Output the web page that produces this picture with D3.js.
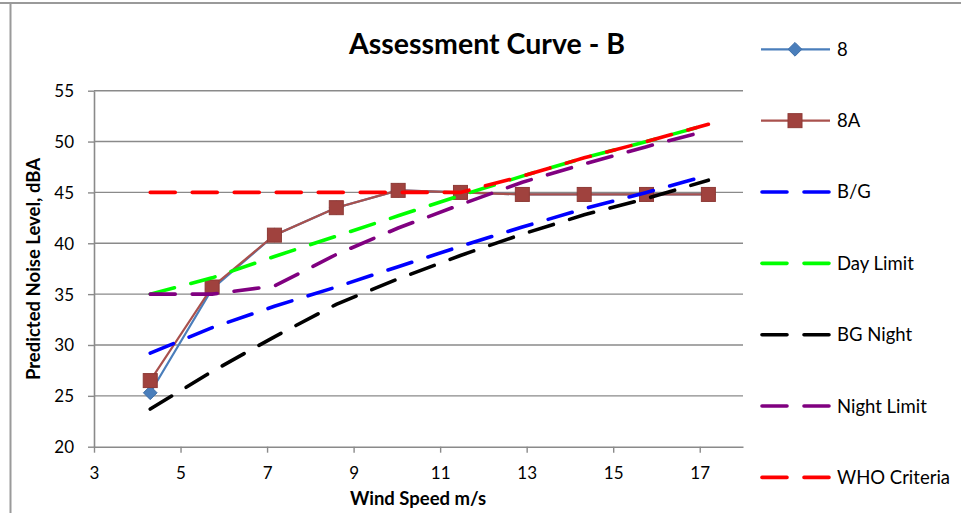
<!DOCTYPE html>
<html>
<head>
<meta charset="utf-8">
<script src="https://cdn.jsdelivr.net/npm/d3@7"></script>
<style>
  html, body { margin: 0; padding: 0; background: #fff; }
  svg { display: block; font-family: Lato, "Open Sans", sans-serif; }
</style>
</head>
<body>
<svg id="chart" width="961" height="513"></svg>
<script>
// Wind speed at which each prediction is made (m/s)
const windSpeed = [4.3, 5.73, 7.17, 8.6, 10.03, 11.47, 12.9, 14.33, 15.77, 17.2];

// Predicted turbine noise levels (dBA)
const s8  = [25.3, 35.5, 40.8, 43.5, 45.2, 45.0, 44.8, 44.8, 44.8, 44.8];
const s8A = [26.5, 35.7, 40.8, 43.5, 45.2, 45.0, 44.8, 44.8, 44.8, 44.8];

// Background levels and limits (dBA)
const bgDay      = [29.2, 31.7, 33.8, 35.7, 37.7, 39.7, 41.6, 43.4, 45.0, 46.7];
const dayLimit   = [35.0, 36.6, 38.7, 40.7, 42.7, 44.7, 46.6, 48.4, 50.0, 51.7];
const bgNight    = [23.7, 27.4, 30.8, 34.0, 36.5, 38.8, 40.9, 42.8, 44.4, 46.2];
const nightLimit = [35.0, 35.0, 35.8, 38.9, 41.5, 43.8, 46.0, 47.8, 49.5, 51.1];
const whoCriteria= [45.0, 45.0, 45.0, 45.0, 45.0, 45.0, 46.6, 48.4, 50.0, 51.7];

const xTicks = [3, 5, 7, 9, 11, 13, 15, 17];
const yTicks = [20, 25, 30, 35, 40, 45, 50, 55];

const seriesNames = ["8", "8A", "B/G", "Day Limit", "BG Night", "Night Limit", "WHO Criteria"];

const svg = d3.select("#chart");

// outer frame edges
svg.append("line").attr("x1", 0).attr("x2", 961).attr("y1", 3).attr("y2", 3)
  .attr("stroke", "#9a9a9a").attr("stroke-width", 2);
svg.append("line").attr("x1", 10.5).attr("x2", 10.5).attr("y1", 3).attr("y2", 513)
  .attr("stroke", "#9a9a9a").attr("stroke-width", 2);

const x = d3.scaleLinear().domain([3, 18]).range([94, 743]);
const y = d3.scaleLinear().domain([20, 55]).range([446.7, 90.7]);

const grid = "#8a8a8a";

// horizontal gridlines
svg.append("g").selectAll("line").data(yTicks.filter(v => v > 20)).join("line")
  .attr("x1", x(3)).attr("x2", x(18))
  .attr("y1", d => y(d)).attr("y2", d => y(d))
  .attr("stroke", grid).attr("stroke-width", 1.4);

// axes
const yAxis = svg.append("g").attr("transform", `translate(${x(3)},0)`)
  .call(d3.axisLeft(y).tickValues(yTicks).tickSize(6).tickSizeOuter(0).tickPadding(14));
const xAxis = svg.append("g").attr("transform", `translate(0,${y(20)})`)
  .call(d3.axisBottom(x).tickValues(xTicks).tickSize(6).tickSizeOuter(0).tickPadding(14));
[xAxis, yAxis].forEach(a => {
  a.select(".domain").attr("stroke", grid).attr("stroke-width", 1.6);
  a.selectAll(".tick line").attr("stroke", grid).attr("stroke-width", 1.4);
  a.selectAll(".tick text").attr("fill", "#000").style("font-size", "17px")
    .style("font-family", "Lato, 'Open Sans', sans-serif");
});
yAxis.selectAll(".tick text").attr("dy", "0.35em");

// titles
svg.append("text").attr("x", 487).attr("y", 54).attr("text-anchor", "middle")
  .style("font-weight", "bold").style("font-size", "28.5px").text("Assessment Curve - B");
svg.append("text").attr("x", 418).attr("y", 505).attr("text-anchor", "middle")
  .style("font-weight", "bold").style("font-size", "18.5px").text("Wind Speed m/s");
svg.append("text").attr("transform", "translate(40,269) rotate(-90)").attr("text-anchor", "middle")
  .style("font-weight", "bold").style("font-size", "18.5px").text("Predicted Noise Level, dBA");

const line = vals => d3.line().x((d, i) => x(windSpeed[i])).y(d => y(d))(vals);

const c8 = "#4A7EBB", c8A = "#A9514D", m8A = "#A0423E";

// series 8 and 8A with markers
svg.append("path").attr("d", line(s8)).attr("fill", "none").attr("stroke", c8).attr("stroke-width", 2.2);
svg.append("g").selectAll("path").data(s8).join("path")
  .attr("d", d3.symbol(d3.symbolDiamond2, 120)())
  .attr("transform", (d, i) => `translate(${x(windSpeed[i])},${y(d)})`)
  .attr("fill", c8).attr("stroke", "#3F6FA8").attr("stroke-width", 1);
svg.append("path").attr("d", line(s8A)).attr("fill", "none").attr("stroke", c8A).attr("stroke-width", 2.2);
svg.append("g").selectAll("rect").data(s8A).join("rect")
  .attr("x", (d, i) => x(windSpeed[i]) - 7).attr("y", d => y(d) - 7)
  .attr("width", 14).attr("height", 14)
  .attr("fill", m8A).attr("stroke", "#8E3A36").attr("stroke-width", 1);

// dashed reference curves
const dashed = [
  { vals: bgDay, color: "#0000FF" },
  { vals: dayLimit, color: "#00FF00" },
  { vals: bgNight, color: "#000000" },
  { vals: nightLimit, color: "#800080" },
  { vals: whoCriteria, color: "#FF0000" }
];
const dashStyle = "25,17";
dashed.forEach(s => {
  svg.append("path").attr("d", line(s.vals)).attr("fill", "none")
    .attr("stroke", s.color).attr("stroke-width", 3.6)
    .attr("stroke-linecap", "round").attr("stroke-dasharray", dashStyle);
});

// legend
const legendColors = [c8, c8A, "#0000FF", "#00FF00", "#000000", "#800080", "#FF0000"];
const lg = svg.append("g");
seriesNames.forEach((name, i) => {
  const ly = 49.3 + i * 71.35;
  const g = lg.append("g").attr("transform", `translate(0,${ly})`);
  if (i < 2) {
    g.append("line").attr("x1", 761).attr("x2", 830).attr("y1", 0).attr("y2", 0)
      .attr("stroke", legendColors[i]).attr("stroke-width", 2.2);
    if (i === 0) {
      g.append("path").attr("d", d3.symbol(d3.symbolDiamond2, 120)())
        .attr("transform", "translate(795,0)").attr("fill", c8).attr("stroke", "#3F6FA8");
    } else {
      g.append("rect").attr("x", 788).attr("y", -7).attr("width", 14).attr("height", 14)
        .attr("fill", m8A).attr("stroke", "#8E3A36");
    }
  } else {
    g.append("line").attr("x1", 762).attr("x2", 829).attr("y1", 0).attr("y2", 0)
      .attr("stroke", legendColors[i]).attr("stroke-width", 3.6)
      .attr("stroke-linecap", "round").attr("stroke-dasharray", "25,17");
  }
  g.append("text").attr("x", 837).attr("y", 0).attr("dy", "0.35em")
    .style("font-size", "18.5px").attr("fill", "#000").text(name);
});
</script>
</body>
</html>
